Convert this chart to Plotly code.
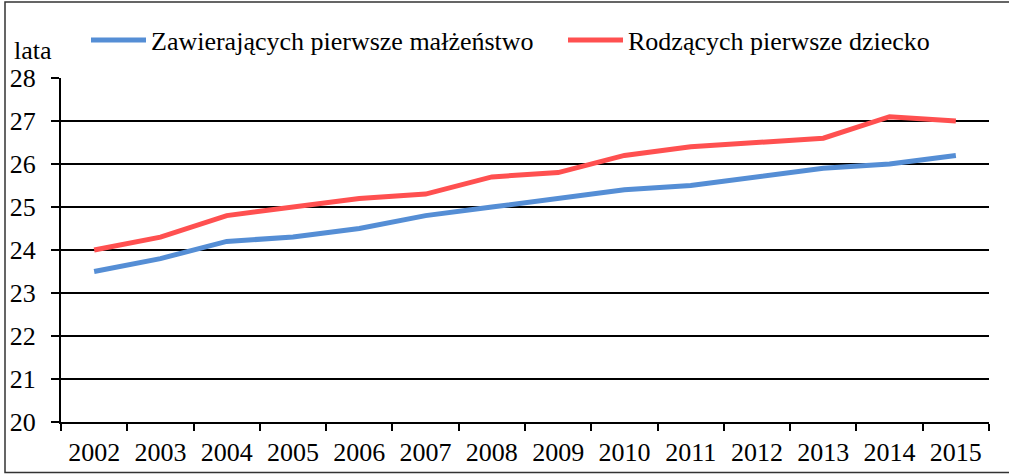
import plotly.graph_objects as go

years = ["2002", "2003", "2004", "2005", "2006", "2007", "2008",
         "2009", "2010", "2011", "2012", "2013", "2014", "2015"]
malzenstwo = [23.5, 23.8, 24.2, 24.3, 24.5, 24.8, 25.0,
              25.2, 25.4, 25.5, 25.7, 25.9, 26.0, 26.2]
dziecko = [24.0, 24.3, 24.8, 25.0, 25.2, 25.3, 25.7,
           25.8, 26.2, 26.4, 26.5, 26.6, 27.1, 27.0]
y_ticks = [20, 21, 22, 23, 24, 25, 26, 27, 28]
name_blue = "Zawierających pierwsze małżeństwo"
name_red = "Rodzących pierwsze dziecko"
y_title = "lata"

W, H = 1009, 474
ML, MR, MT, MB = 61, 20, 78, 52
PW, PH = W - ML - MR, H - MT - MB

def px(x):
    return (x - ML) / PW

def py(y):
    return (H - MB - y) / PH

FONT = "Liberation Serif"
FS = 26

fig = go.Figure()
fig.add_trace(go.Scatter(x=years, y=malzenstwo, mode="lines", name=name_blue,
                         line=dict(color="#558ED5", width=5), legend="legend"))
fig.add_trace(go.Scatter(x=years, y=dziecko, mode="lines", name=name_red,
                         line=dict(color="#FF5050", width=5), legend="legend2"))

leg_common = dict(orientation="h", yanchor="middle", xanchor="left",
                  font=dict(family=FONT, size=FS, color="black"),
                  bgcolor="rgba(0,0,0,0)", itemwidth=55, borderwidth=0)

fig.update_layout(
    width=W, height=H,
    margin=dict(l=ML, r=MR, t=MT, b=MB, pad=0, autoexpand=False),
    paper_bgcolor="white", plot_bgcolor="white",
    font=dict(family=FONT, size=FS, color="black"),
    showlegend=True,
    legend=dict(x=px(86), y=py(40), **leg_common),
    legend2=dict(x=px(563), y=py(40), **leg_common),
    xaxis=dict(type="category", tickson="boundaries", ticks="outside",
               range=[-0.5, len(years) - 0.5], automargin=False,
               ticklen=7, tickwidth=1.5, tickcolor="black",
               showline=True, linewidth=2, linecolor="black",
               showgrid=False, zeroline=False,
               tickfont=dict(family=FONT, size=FS, color="black"),
               ticklabelstandoff=6),
    yaxis=dict(range=[20, 28], tickvals=y_ticks, ticks="outside",
               automargin=False,
               ticklen=8, tickwidth=1.5, tickcolor="black",
               showline=True, linewidth=2, linecolor="black",
               showgrid=True, gridcolor="black", gridwidth=1.5,
               zeroline=False,
               tickfont=dict(family=FONT, size=FS, color="black"),
               ticklabelstandoff=10),
    annotations=[dict(text=y_title, xref="paper", yref="paper",
                      x=px(12), y=py(50), xanchor="left", yanchor="middle",
                      showarrow=False,
                      font=dict(family=FONT, size=FS, color="black"))],
    shapes=[dict(type="rect", xref="paper", yref="paper",
                 x0=px(5), x1=px(1013), y0=py(472.5), y1=py(2),
                 line=dict(color="#333333", width=1.5),
                 fillcolor="rgba(0,0,0,0)", layer="below")],
)

fig.write_html("out.html",
               config={"displayModeBar": False},
               post_script="document.body.style.margin='0px';"
                           "document.body.style.padding='0px';")
